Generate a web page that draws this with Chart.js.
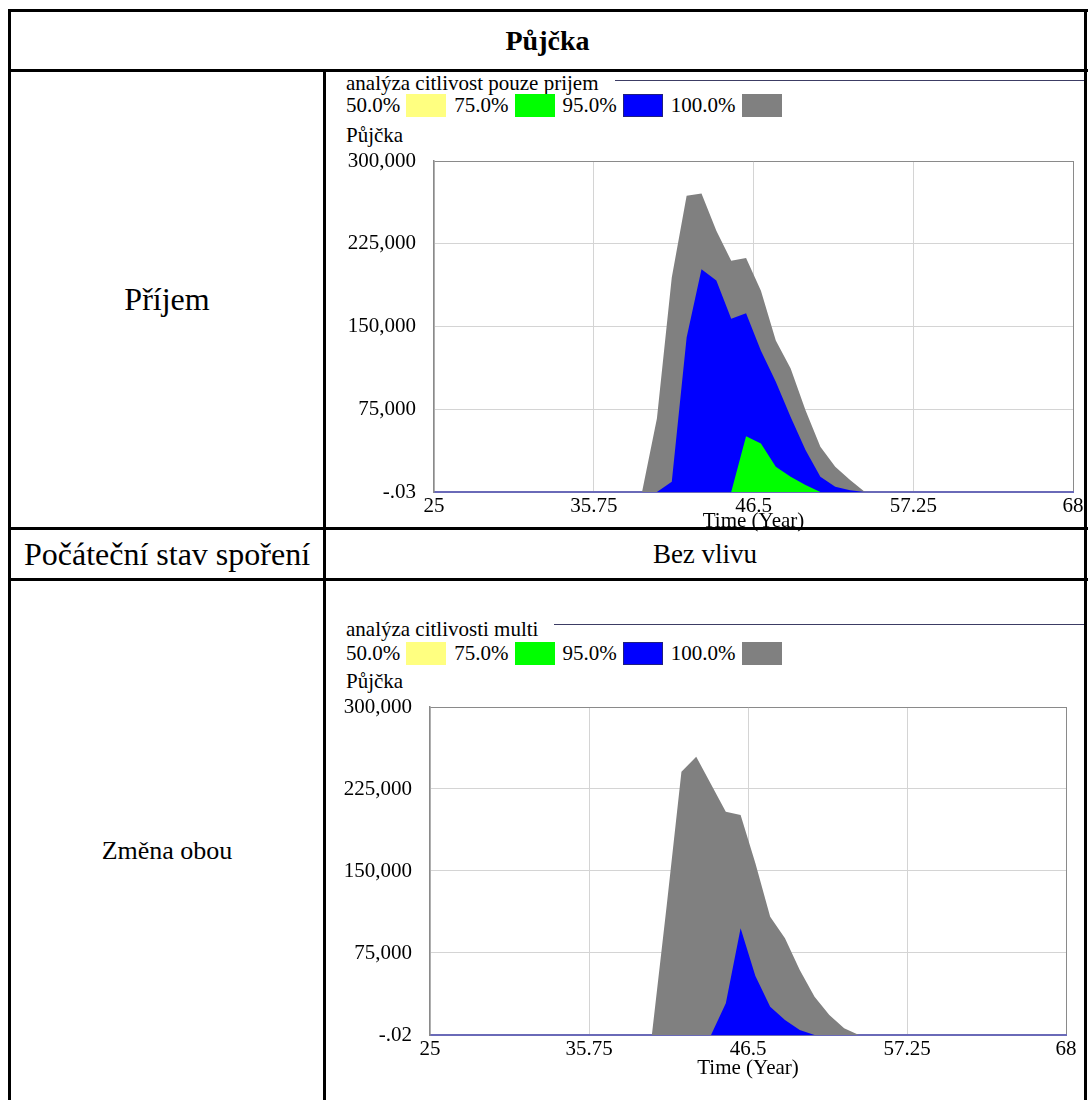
<!DOCTYPE html>
<html>
<head>
<meta charset="utf-8">
<script src="https://cdn.jsdelivr.net/npm/chart.js@4.4.1/dist/chart.umd.min.js"></script>
<style>
  body { margin: 0; background: #fff; width: 1088px; height: 1100px; overflow: hidden; position: relative; font-family: "Liberation Serif", "Times New Roman", serif; color: #000; }
  .rule { position: absolute; background: #000; z-index: 5; }
  .cell { position: absolute; display: flex; align-items: center; justify-content: center; white-space: nowrap; }
  .txt { position: absolute; white-space: nowrap; font-size: 21px; line-height: 23px; }
  .titlerow { position: absolute; display: flex; align-items: flex-start; font-size: 21px; line-height: 23px; white-space: nowrap; }
  .titlerow .ln { flex: 1; height: 1px; background: #3c3c64; margin-left: 16px; }
  .legend { position: absolute; display: flex; align-items: center; height: 23px; font-size: 21px; line-height: 23px; white-space: nowrap; }
  .legend .box { width: 40px; height: 23px; margin-left: 6px; margin-right: 8px; box-sizing: border-box; }
  canvas { position: absolute; }
</style>
</head>
<body>

<!-- table rules -->
<div class="rule" style="left:8px; top:9px; width:1080px; height:3px"></div>
<div class="rule" style="left:8px; top:69px; width:1080px; height:3px"></div>
<div class="rule" style="left:8px; top:527px; width:1080px; height:3px"></div>
<div class="rule" style="left:8px; top:578px; width:1080px; height:3px"></div>
<div class="rule" style="left:8px; top:9px; width:3px; height:1091px"></div>
<div class="rule" style="left:323px; top:70px; width:3px; height:1030px"></div>
<div class="rule" style="left:1084px; top:9px; width:3px; height:1091px"></div>

<!-- table texts -->
<div class="cell" style="left:11px; top:12px; width:1073px; height:57px; font-weight:bold; font-size:28px">Půjčka</div>
<div class="cell" style="left:11px; top:72px; width:312px; height:455px; font-size:32px">Příjem</div>
<div class="cell" style="left:11px; top:530px; width:312px; height:48px; font-size:32px">Počáteční stav spoření</div>
<div class="cell" style="left:326px; top:530px; width:758px; height:48px; font-size:27px">Bez vlivu</div>
<div class="cell" style="left:11px; top:581px; width:312px; height:540px; font-size:26px">Změna obou</div>

<div id="charts"></div>

<script>
// --- data ---
const times = [25, 38, 39, 40, 41, 42, 43, 44, 45, 46, 47, 48, 49, 50, 51, 52, 53, 54, 68];

// chart 1: analýza citlivost pouze prijem
const prijemGray   = [0, 0, 0, 66600, 194500, 268400, 270500, 236700, 209600, 212000, 182500, 137300, 112000, 74000, 40900, 22900, 10800, 0, 0];
const prijemBlue   = [0, 0, 0, 0, 9300, 140000, 202000, 191600, 157000, 162000, 128000, 100000, 68000, 38000, 13800, 4800, 1500, 0, 0];
const prijemGreen  = [0, 0, 0, 0, 0, 0, 0, 0, 0, 50600, 44000, 22900, 13800, 6300, 0, 0, 0, 0, 0];
const prijemYellow = [0, 0, 0, 0, 0, 0, 0, 0, 0, 0, 0, 0, 0, 0, 0, 0, 0, 0, 0];

// chart 2: analýza citlivosti multi
const multiGray   = [0, 0, 0, 0, 118000, 240800, 254500, 229300, 204300, 201200, 157000, 108200, 88400, 59500, 35000, 18300, 6100, 0, 0];
const multiBlue   = [0, 0, 0, 0, 0, 0, 0, 0, 29000, 97600, 54000, 25900, 13700, 4600, 0, 0, 0, 0, 0];
const multiGreen  = [0, 0, 0, 0, 0, 0, 0, 0, 0, 0, 0, 0, 0, 0, 0, 0, 0, 0, 0];
const multiYellow = [0, 0, 0, 0, 0, 0, 0, 0, 0, 0, 0, 0, 0, 0, 0, 0, 0, 0, 0];

const bandLabels = ["50.0%", "75.0%", "95.0%", "100.0%"];
const bandColors = ["#ffff80", "#00ff00", "#0000ff", "#808080"];

const xTicks = [25, 35.75, 46.5, 57.25, 68];
const yTicks1 = [-0.03, 75000, 150000, 225000, 300000];
const yTicks2 = [-0.02, 75000, 150000, 225000, 300000];

const serif = "'Liberation Serif', 'Times New Roman', serif";

// --- layout of the two chart panels ---
const panels = [
  {
    title: "analýza citlivost pouze prijem",
    series: [prijemYellow, prijemGreen, prijemBlue, prijemGray],
    yTicks: yTicks1, minLabel: "-.03",
    titleTop: 72, lineTop: 8, legendTop: 94, unitTop: 124, axisH: 42, tickPad: 2,
    plot: { left: 434, right: 1073, top: 161, bottom: 492 }
  },
  {
    title: "analýza citlivosti multi",
    series: [multiYellow, multiGreen, multiBlue, multiGray],
    yTicks: yTicks2, minLabel: "-.02",
    titleTop: 618, lineTop: 6, legendTop: 642, unitTop: 670, axisH: 46, tickPad: 2,
    plot: { left: 430, right: 1066, top: 707, bottom: 1035 }
  }
];

const host = document.getElementById("charts");
const canvasLeft = 326, canvasRight = 1086;
const padTop = 31;

panels.forEach(p => {
  // title with rule
  const tr = document.createElement("div");
  tr.className = "titlerow";
  tr.style.left = "346px";
  tr.style.top = p.titleTop + "px";
  tr.style.width = (1085 - 346) + "px";
  tr.innerHTML = `<span>${p.title}</span><div class="ln" style="margin-top:${p.lineTop}px"></div>`;
  host.appendChild(tr);

  // legend: label then colour box
  const lg = document.createElement("div");
  lg.className = "legend";
  lg.style.left = "346px";
  lg.style.top = p.legendTop + "px";
  bandLabels.forEach((lab, i) => {
    const s = document.createElement("span");
    s.textContent = lab;
    const b = document.createElement("div");
    b.className = "box";
    b.style.background = bandColors[i];
    if (i === 2) b.style.border = "1px solid #202080";
    lg.appendChild(s);
    lg.appendChild(b);
  });
  host.appendChild(lg);

  // unit label
  const u = document.createElement("div");
  u.className = "txt";
  u.style.left = "346px";
  u.style.top = p.unitTop + "px";
  u.textContent = "Půjčka";
  host.appendChild(u);

  // chart canvas
  const top = p.plot.top - padTop;
  const cv = document.createElement("canvas");
  cv.width = canvasRight - canvasLeft;
  cv.height = p.plot.bottom + p.axisH - top;
  cv.style.left = canvasLeft + "px";
  cv.style.top = top + "px";
  host.appendChild(cv);

  const yMin = p.yTicks[0], yMax = p.yTicks[p.yTicks.length - 1];
  const font = { family: serif, size: 21 };

  new Chart(cv, {
    type: "line",
    data: {
      datasets: p.series.map((vals, i) => ({
        label: bandLabels[i],
        data: times.map((t, k) => ({ x: t, y: vals[k] })),
        backgroundColor: bandColors[i],
        borderColor: bandColors[i],
        borderWidth: 0,
        fill: "origin",
        pointRadius: 0,
        tension: 0
      }))
    },
    options: {
      responsive: false,
      animation: false,
      devicePixelRatio: 1,
      layout: { padding: { top: padTop, right: canvasRight - p.plot.right, left: 0, bottom: 0 } },
      plugins: { legend: { display: false }, tooltip: { enabled: false } },
      scales: {
        x: {
          type: "linear", min: 25, max: 68,
          afterBuildTicks: s => { s.ticks = xTicks.map(v => ({ value: v })); },
          afterFit: s => { s.height = p.axisH; },
          ticks: { autoSkip: false, maxRotation: 0, padding: p.tickPad, font, color: "#000", callback: v => String(v) },
          grid: { drawTicks: false, lineWidth: 1, color: c => (c.tick && c.tick.value === 68 ? "#8a8a8a" : "#d4d4d4") },
          border: { color: "#6a6ab8", width: 2 },
          title: { display: true, text: "Time (Year)", font, color: "#000", padding: 0 }
        },
        y: {
          min: yMin, max: yMax,
          afterBuildTicks: s => { s.ticks = p.yTicks.map(v => ({ value: v })); },
          afterFit: s => { s.width = p.plot.left - canvasLeft; },
          ticks: {
            autoSkip: false, padding: 18, font, color: "#000",
            callback: v => (v === yMin ? p.minLabel : v.toLocaleString("en-US"))
          },
          grid: { drawTicks: false, lineWidth: 1, color: c => (c.tick && c.tick.value === yMax ? "#8a8a8a" : "#d4d4d4") },
          border: { color: "#8a8a8a", width: 1.5 }
        }
      }
    }
  });
});
</script>
</body>
</html>
